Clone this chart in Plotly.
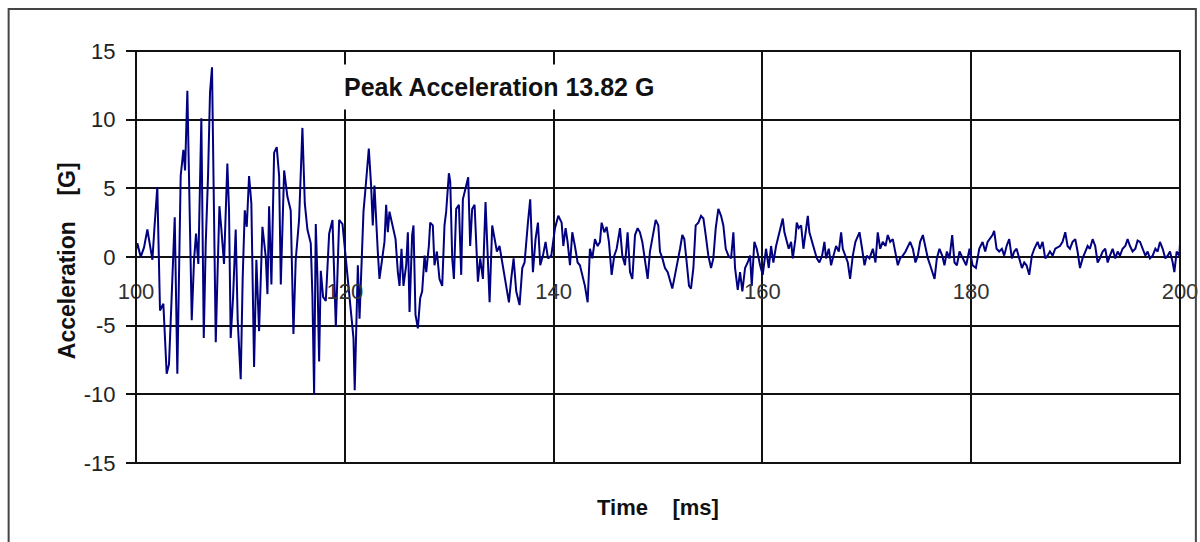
import plotly.graph_objects as go

# Accelerometer trace, read in five 20 ms windows (time in ms, acceleration in G)
t_100_120 = [100.0, 100.13, 100.45, 100.77, 101.09, 101.34, 101.57, 101.79, 102.04, 102.30,
             102.62, 102.94, 103.16, 103.39, 103.58, 103.71, 103.96, 104.12, 104.28, 104.54,
             104.70, 104.92, 105.11, 105.34, 105.56, 105.75, 105.97, 106.26, 106.49, 106.68,
             106.90, 107.09, 107.28, 107.48, 107.64, 107.80, 107.99, 108.18, 108.43, 108.75,
             108.91, 109.07, 109.30, 109.55, 109.74, 110.03, 110.22, 110.42, 110.61, 110.83,
             111.05, 111.31, 111.53, 111.79, 112.11, 112.43, 112.59, 112.75, 112.97, 113.23,
             113.48, 113.71, 113.87, 114.19, 114.50, 114.82, 115.08, 115.30, 115.62, 115.94,
             116.17, 116.42, 116.74, 116.90, 117.06, 117.22, 117.38, 117.54, 117.70, 117.92,
             118.18, 118.50, 118.82, 119.14, 119.46, 119.78]
g_100_120 = [0.5, 1.0, 0.0, 0.7, 2.0, 0.7, -0.2, 2.4, 5.1, -3.9,
             -3.4, -8.5, -7.8, -3.4, 1.0, 2.9, -8.5, -1.5, 5.9, 7.8,
             6.3, 12.1, 3.4, -4.6, -0.2, 1.7, -0.5, 10.1, -5.9, 1.0,
             5.9, 12.0, 13.82, 3.4, -6.2, -1.5, 3.7, 2.0, -0.5, 6.8,
             3.4, -5.9, -2.9, 2.0, -4.6, -8.9, -1.5, 3.4, 2.2, 5.9,
             3.9, -8.0, -0.2, -5.4, 2.2, 0.0, -2.7, 3.7, -2.0, 7.6,
             8.0, 5.9, -2.0, 6.3, 4.4, 3.4, -5.6, -0.2, 2.7, 9.4,
             3.9, 2.0, 1.0, -2.9, -10.0, 2.4, -1.5, -7.6, -1.0, -2.9,
             -3.2, 1.7, 2.7, -5.1, 2.7, 2.4]

t_120_140 = [120.10, 120.29, 120.61, 120.83, 120.95, 121.25, 121.41, 121.66, 121.79, 122.04,
             122.30, 122.52, 122.68, 122.84, 123.00, 123.16, 123.32, 123.58, 123.80, 123.96,
             124.12, 124.28, 124.60, 124.86, 125.08, 125.24, 125.43, 125.62, 125.88, 126.04,
             126.20, 126.45, 126.58, 126.77, 127.00, 127.22, 127.41, 127.64, 127.80, 128.05,
             128.18, 128.43, 128.59, 128.82, 129.07, 129.33, 129.55, 129.71, 129.97, 130.10,
             130.29, 130.45, 130.67, 130.93, 131.15, 131.31, 131.63, 131.82, 132.01, 132.20,
             132.43, 132.59, 132.75, 132.97, 133.23, 133.48, 133.71, 133.87, 134.12, 134.35,
             134.57, 134.82, 135.08, 135.30, 135.53, 135.72, 135.94, 136.17, 136.42, 136.74,
             137.00, 137.22, 137.54, 137.76, 138.02, 138.27, 138.50, 138.72, 138.98, 139.23,
             139.46, 139.78]
g_120_140 = [0.0, -1.8, -4.0, -5.9, -9.7, -0.6, -4.5, 1.8, 3.3, 5.5,
             7.9, 5.2, 2.3, 5.2, 2.5, 0.4, -1.6, 0.1, 1.1, 3.8,
             1.8, 3.3, 2.3, 1.3, -1.1, -2.1, 0.6, -2.1, -0.6, 1.8,
             -4.0, 1.6, 2.3, -4.2, -5.2, -3.0, -2.5, 0.1, -1.1, 0.8,
             2.5, 2.3, -0.6, 0.4, -1.6, -2.1, 2.3, 3.3, 6.1, 5.5,
             -0.1, -1.6, 3.5, 3.8, -1.3, 4.2, 5.2, 5.8, 0.8, 3.5,
             3.8, 1.3, -1.8, -0.1, -1.6, 4.0, -1.1, -3.3, 2.3, 1.3,
             0.4, 0.8, -0.4, -1.1, -2.3, -3.3, -1.6, -0.1, -2.5, -3.5,
             -0.8, -0.4, 2.5, 4.2, -1.1, 1.3, 2.5, -0.6, 0.1, 1.1,
             -0.1, 0.1]

t_140_160 = [140.13, 140.45, 140.77, 140.93, 141.15, 141.34, 141.57, 141.79, 142.04, 142.30,
             142.52, 142.75, 143.00, 143.26, 143.48, 143.71, 143.96, 144.22, 144.44, 144.60,
             144.86, 145.08, 145.30, 145.56, 145.81, 146.04, 146.36, 146.58, 146.84, 147.09,
             147.32, 147.54, 147.80, 148.05, 148.27, 148.50, 148.75, 149.01, 149.23, 149.55,
             149.78, 150.03, 150.19, 150.42, 150.67, 150.93, 151.15, 151.37, 151.63, 151.88,
             152.11, 152.33, 152.52, 152.75, 152.97, 153.16, 153.39, 153.61, 153.87, 154.12,
             154.35, 154.57, 154.82, 155.08, 155.30, 155.53, 155.78, 156.04, 156.26, 156.49,
             156.74, 157.00, 157.22, 157.38, 157.64, 157.86, 158.08, 158.34, 158.59, 158.82,
             158.98, 159.23, 159.46, 159.78]
g_140_160 = [2.1, 3.0, 2.5, 0.8, 2.1, 1.1, -0.6, 1.8, 0.8, -0.4,
             -0.6, -1.3, -2.1, -3.3, 0.6, -0.1, 1.3, 0.8, 1.1, 2.5,
             1.8, 2.2, 1.1, -1.3, 0.1, 0.6, 2.1, 0.1, -0.6, 1.8,
             -1.1, -1.6, 1.6, 2.1, 1.8, 1.1, -0.4, -1.6, 0.4, 1.8,
             2.7, 2.3, 0.4, -0.1, -0.8, -1.1, -1.8, -2.3, -1.3, -0.4,
             0.6, 1.6, 1.3, -0.4, -2.1, -2.3, -0.8, 2.3, 2.5, 3.0,
             2.8, 1.6, 0.1, -0.8, -0.1, 2.1, 3.5, 3.0, 2.3, 0.6,
             0.1, -0.1, 1.8, -0.8, -2.4, -1.1, -2.5, -0.8, -0.4, 0.1,
             -2.1, 1.1, 0.6, -0.6]

t_160_180 = [160.03, 160.35, 160.61, 160.83, 161.05, 161.31, 161.57, 161.79, 161.95, 162.11,
             162.33, 162.52, 162.75, 162.91, 163.16, 163.29, 163.48, 163.71, 163.93, 164.12,
             164.35, 164.50, 164.76, 164.98, 165.21, 165.46, 165.72, 165.94, 166.10, 166.36,
             166.58, 166.81, 167.06, 167.32, 167.54, 167.70, 167.96, 168.18, 168.40, 168.66,
             168.91, 169.14, 169.30, 169.55, 169.78, 170.00, 170.26, 170.58, 170.83, 171.05,
             171.28, 171.53, 171.79, 172.01, 172.24, 172.49, 172.75, 172.97, 173.19, 173.45,
             173.71, 173.93, 174.15, 174.41, 174.66, 174.89, 175.11, 175.37, 175.62, 175.85,
             176.07, 176.33, 176.49, 176.71, 176.96, 177.22, 177.44, 177.67, 177.92, 178.18,
             178.40, 178.63, 178.88, 179.20, 179.52, 179.84]
g_160_180 = [-1.3, 0.6, -0.8, 0.8, -0.4, 0.8, 1.6, 2.3, 2.8, 1.8,
             1.1, 0.6, 1.1, -0.1, 1.3, 2.5, 2.1, 2.3, 0.6, 1.8,
             3.0, 1.8, 1.1, 0.6, -0.1, -0.4, 0.1, 1.1, -0.1, 0.6,
             -0.6, 0.1, 0.8, 0.4, 1.8, 0.6, 0.1, -0.4, -1.6, 0.1,
             1.1, 1.6, 1.8, 0.6, -0.6, 0.1, -0.1, 0.6, -0.4, 1.8,
             0.6, 1.1, 0.8, 1.6, 1.1, 1.3, 0.1, -0.6, -0.1, 0.1,
             0.4, 0.8, 1.1, 0.6, -0.4, 0.1, 1.1, 1.6, 0.6, -0.1,
             -0.6, -1.3, -1.6, -0.1, 0.6, 0.1, -0.6, 0.4, -0.1, 1.6,
             -0.4, -0.6, 0.4, -0.1, -0.6, 0.6]

t_180_200 = [180.13, 180.45, 180.77, 181.09, 181.34, 181.57, 181.79, 182.04, 182.20, 182.43,
             182.68, 182.94, 183.16, 183.39, 183.64, 183.90, 184.12, 184.35, 184.60, 184.86,
             185.08, 185.30, 185.56, 185.81, 186.04, 186.36, 186.58, 186.84, 187.09, 187.32,
             187.54, 187.80, 188.05, 188.27, 188.50, 188.75, 189.01, 189.23, 189.46, 189.71,
             189.97, 190.19, 190.42, 190.67, 190.93, 191.15, 191.37, 191.63, 191.88, 192.11,
             192.33, 192.59, 192.84, 193.07, 193.29, 193.55, 193.80, 194.03, 194.25, 194.50,
             194.76, 194.98, 195.21, 195.46, 195.72, 195.94, 196.17, 196.42, 196.68, 196.90,
             197.12, 197.38, 197.64, 197.86, 198.08, 198.34, 198.59, 198.82, 199.04, 199.30,
             199.46, 199.68, 199.94, 200.0]
g_180_200 = [-0.6, -0.8, 0.6, 1.1, 0.4, 1.1, 1.3, 1.6, 1.9, 0.6,
             0.4, 0.6, 0.1, 0.8, 1.3, -0.1, 0.4, 0.6, -0.1, -0.8,
             -0.4, -0.6, -1.3, 0.1, 0.6, 1.1, 0.6, 1.1, -0.1, 0.1,
             0.4, 0.1, 0.6, 0.7, 0.8, 1.1, 1.8, 0.8, 0.6, 1.1,
             1.3, 0.4, -0.8, -0.1, 0.4, 0.8, 0.6, 1.3, 0.8, -0.4,
             -0.1, 0.4, 0.6, -0.4, 0.1, 0.6, -0.1, 0.4, 0.1, 0.6,
             0.8, 1.3, 0.8, 0.4, 0.6, 1.2, 1.1, 0.6, 0.1, 0.4,
             -0.1, 0.1, 0.6, 0.4, 1.1, 0.6, -0.1, 0.1, 0.4, -0.4,
             -1.1, 0.4, 0.1, 1.0]

time_ms = t_100_120 + t_120_140 + t_140_160 + t_160_180 + t_180_200
accel_g = g_100_120 + g_120_140 + g_140_160 + g_160_180 + g_180_200

peak_g = 13.82
x_ticks = [100, 120, 140, 160, 180, 200]
y_ticks = [-15, -10, -5, 0, 5, 10, 15]

FONT = "Arial, Liberation Sans, sans-serif"

fig = go.Figure()
fig.add_trace(go.Scatter(
    x=time_ms, y=accel_g, mode="lines",
    line=dict(color="#000080", width=2),
    showlegend=False, hoverinfo="skip",
))

# peak label on a white box that breaks the gridlines behind it
fig.add_annotation(
    x=134.8, y=12.4, xref="x", yref="y",
    text=f"Peak Acceleration {peak_g:.2f} G",
    showarrow=False, bgcolor="white", borderpad=8,
    font=dict(family=FONT, size=25, color="#111", weight="bold"),
)

# axis titles
fig.add_annotation(
    x=0.5, y=-0.107, xref="paper", yref="paper",
    text="Time\u00a0\u00a0\u00a0\u00a0[ms]", showarrow=False,
    xanchor="center", yanchor="middle",
    font=dict(family=FONT, size=22, color="#111", weight="bold"),
)
fig.add_annotation(
    x=-0.066, y=0.49, xref="paper", yref="paper",
    text="Acceleration\u00a0\u00a0\u00a0\u00a0[G]", showarrow=False, textangle=-90,
    xanchor="center", yanchor="middle",
    font=dict(family=FONT, size=23, color="#111", weight="bold"),
)

# plot frame
fig.add_shape(type="rect", xref="paper", yref="paper", x0=0, x1=1, y0=0, y1=1,
              line=dict(color="#111", width=2), layer="above")
# chart-area border (open at the bottom)
fig.add_shape(type="path", xref="paper", yref="paper",
              path="M -0.122,-0.3 L -0.122,1.102 L 1.0152,1.102 L 1.0152,-0.3",
              line=dict(color="#444", width=2), layer="above")

fig.update_xaxes(
    range=[100, 200], tickvals=x_ticks, ticktext=[str(v) for v in x_ticks],
    showgrid=True, gridcolor="#111", gridwidth=2,
    zeroline=False, showline=False, ticks="", automargin=False,
    anchor="free", position=0.5, ticklabelstandoff=19,
    tickfont=dict(family=FONT, size=22, color="#333"),
)
fig.update_yaxes(
    range=[-15, 15], tickvals=y_ticks, ticktext=[str(v) for v in y_ticks],
    showgrid=True, gridcolor="#111", gridwidth=2,
    zeroline=False, showline=False, automargin=False,
    ticks="outside", ticklen=9, tickwidth=2, tickcolor="#111",
    ticklabelstandoff=6,
    tickfont=dict(family=FONT, size=22, color="#222"),
)

fig.update_layout(
    width=1200, height=542,
    margin=dict(l=136, r=20, t=51, b=79),
    plot_bgcolor="white", paper_bgcolor="white",
)

fig.write_html("out.html")
